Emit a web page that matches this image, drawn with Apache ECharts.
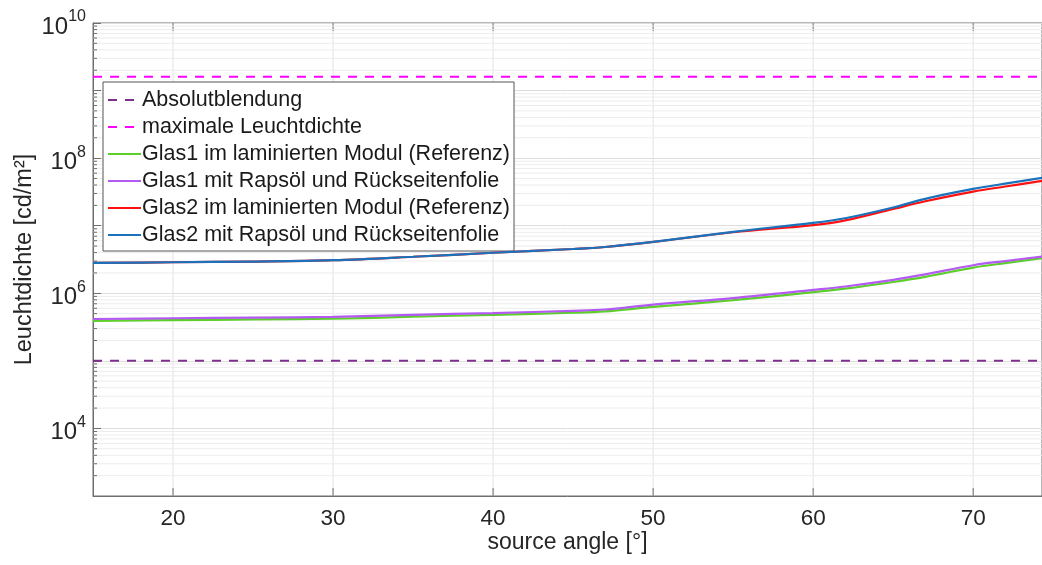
<!DOCTYPE html>
<html>
<head>
<meta charset="utf-8">
<script src="https://cdn.jsdelivr.net/npm/echarts@6/dist/echarts.min.js"></script>
<style>
html,body{margin:0;padding:0;background:#fff;}
#chart{width:1042px;height:565px;}
</style>
</head>
<body>
<div id="chart"></div>
<script>
// ---- data ----
const angles = [15, 20, 25, 30, 35, 40, 45, 47, 50, 55, 60, 62, 65, 67, 70, 72, 74.3];
const glas1Laminiert = [3.9e5, 4.0e5, 4.1e5, 4.2e5, 4.5e5, 4.8e5, 5.15e5, 5.4e5, 6.3e5, 7.9e5, 1.04e6, 1.17e6, 1.47e6, 1.75e6, 2.4e6, 2.8e6, 3.3e6];
const glas1Rapsoel = [4.16e5, 4.27e5, 4.37e5, 4.47e5, 4.8e5, 5.1e5, 5.5e5, 5.75e5, 6.8e5, 8.5e5, 1.12e6, 1.26e6, 1.58e6, 1.9e6, 2.6e6, 3.0e6, 3.5e6];
const glas2Laminiert = [2.81e6, 2.88e6, 2.95e6, 3.09e6, 3.47e6, 3.98e6, 4.52e6, 4.84e6, 5.75e6, 8.0e6, 1.02e7, 1.2e7, 1.77e7, 2.3e7, 3.2e7, 3.8e7, 4.6e7];
const glas2Rapsoel = [2.81e6, 2.88e6, 2.95e6, 3.09e6, 3.47e6, 3.98e6, 4.52e6, 4.84e6, 5.75e6, 8.13e6, 1.10e7, 1.29e7, 1.86e7, 2.5e7, 3.5e7, 4.2e7, 5.1e7];
const absolutblendung = 1e5;
const maxLeuchtdichte = 1.6e9;
const xRange = [15, 74.3];
const yRange = [1e3, 1e10];
const xGridTicks = [20, 30, 40, 50, 60, 70];
const yMinorTicks = [];
for (let d = 3; d < 10; d++) for (let m = 2; m <= 9; m++) yMinorTicks.push(m * Math.pow(10, d));

const names = [
  'Absolutblendung',
  'maximale Leuchtdichte',
  'Glas1 im laminierten Modul (Referenz)',
  'Glas1 mit Rapsöl und Rückseitenfolie',
  'Glas2 im laminierten Modul (Referenz)',
  'Glas2 mit Rapsöl und Rückseitenfolie'
];
const colors = ['#7e2f8e', '#ff00ff', '#5ccf2a', '#b45af2', '#ff1010', '#1a72bd'];

const FONT = '"Liberation Sans", Arial, Helvetica, sans-serif';
const pair = (ys) => angles.map((a, i) => [a, ys[i]]);

const chart = echarts.init(document.getElementById('chart'), null, {renderer: 'canvas'});

const lineSeries = (idx, data, dashed, z) => ({
  name: names[idx],
  type: 'line',
  data: data,
  showSymbol: false,
  symbol: 'none',
  smooth: dashed ? false : 0.35,
  z: z,
  lineStyle: {color: colors[idx], width: dashed ? 2 : 2.2, type: dashed ? [9, 8] : 'solid'},
  itemStyle: {color: colors[idx]},
  emphasis: {disabled: true},
  animation: false
});

const option = {
  animation: false,
  textStyle: {fontFamily: FONT},
  grid: {left: 93, right: 0, top: 23, bottom: 69, containLabel: false, outerBoundsMode: 'none',
         show: true, borderColor: '#6e6e6e', borderWidth: 1, backgroundColor: 'transparent'},
  xAxis: {
    type: 'value', min: xRange[0], max: xRange[1], interval: 5,
    name: 'source angle [°]', nameLocation: 'middle', nameGap: 35, nameMoveOverlap: false,
    nameTextStyle: {fontSize: 23, color: '#262626', fontFamily: FONT},
    axisLine: {show: true, lineStyle: {color: '#6e6e6e', width: 1}},
    axisTick: {show: false},
    splitLine: {show: false},
    axisLabel: {
      fontSize: 22.5, color: '#262626', fontFamily: FONT, margin: 11,
      showMinLabel: false, showMaxLabel: false,
      formatter: (v) => (Math.abs(v % 10) < 1e-9 ? String(v) : '')
    }
  },
  yAxis: {
    type: 'log', logBase: 10, min: yRange[0], max: yRange[1],
    name: 'Leuchtdichte [cd/m²]', nameLocation: 'middle', nameGap: 56, nameMoveOverlap: false,
    nameTextStyle: {fontSize: 23.5, color: '#262626', fontFamily: FONT},
    axisLine: {show: true, lineStyle: {color: '#6e6e6e', width: 1}},
    axisTick: {show: true, inside: true, length: 8, lineStyle: {color: '#6e6e6e'}},
    splitLine: {show: true, lineStyle: {color: '#dedede', width: 1}},
    axisLabel: {
      color: '#262626', fontFamily: FONT, margin: 7,
      formatter: (v) => {
        const e = Math.round(Math.log10(v));
        return e % 2 === 0 ? '{b|10}{s|' + e + '}' : '';
      },
      rich: {
        b: {fontSize: 24, color: '#262626', fontFamily: FONT, padding: [8, 0, 0, 0]},
        s: {fontSize: 16, color: '#262626', fontFamily: FONT, padding: [0, 0, 12, 0]}
      }
    }
  },
  legend: {
    orient: 'vertical', left: 103, top: 82,
    data: names,
    backgroundColor: '#ffffff', borderColor: '#555555', borderWidth: 1,
    padding: [7, 4, 5, 4], itemGap: 5,
    itemWidth: 33, itemHeight: 16,
    itemStyle: {opacity: 0},
    textStyle: {fontSize: 21.5, color: '#1a1a1a', fontFamily: FONT, padding: [0, 0, 0, -4]},
    selectedMode: false
  },
  series: [
    {
      name: 'xgrid', type: 'custom', z: 1, silent: true, clip: true,
      data: xGridTicks.map(v => [v, 1e5]),
      renderItem: (params, api) => {
        const x = api.value(0);
        const top = api.coord([x, yRange[1]]);
        const bot = api.coord([x, yRange[0]]);
        return {type: 'group', children: [
          {type: 'line', shape: {x1: top[0], y1: top[1], x2: bot[0], y2: bot[1]}, style: {stroke: '#e2e2e2', lineWidth: 1}},
          {type: 'line', shape: {x1: bot[0], y1: bot[1], x2: bot[0], y2: bot[1] - 8}, style: {stroke: '#6e6e6e', lineWidth: 1}},
          {type: 'line', shape: {x1: top[0], y1: top[1], x2: top[0], y2: top[1] + 8}, style: {stroke: '#6e6e6e', lineWidth: 1}}
        ]};
      }
    },
    {
      name: 'yminor', type: 'custom', z: 1, silent: true, clip: true,
      data: yMinorTicks.map(v => [xRange[0], v]),
      renderItem: (params, api) => {
        const v = api.value(1);
        const l = api.coord([xRange[0], v]);
        const r = api.coord([xRange[1], v]);
        return {type: 'group', children: [
          {type: 'line', shape: {x1: l[0], y1: l[1], x2: r[0], y2: r[1]}, style: {stroke: '#ececec', lineWidth: 1}},
          {type: 'line', shape: {x1: l[0], y1: l[1], x2: l[0] + 4, y2: l[1]}, style: {stroke: '#6e6e6e', lineWidth: 1}}
        ]};
      }
    },
    lineSeries(0, [[xRange[0], absolutblendung], [xRange[1], absolutblendung]], true, 3),
    lineSeries(1, [[xRange[0], maxLeuchtdichte], [xRange[1], maxLeuchtdichte]], true, 3),
    lineSeries(2, pair(glas1Laminiert), false, 4),
    lineSeries(3, pair(glas1Rapsoel), false, 5),
    lineSeries(4, pair(glas2Laminiert), false, 6),
    lineSeries(5, pair(glas2Rapsoel), false, 7)
  ]
};
chart.setOption(option);
</script>
</body>
</html>
